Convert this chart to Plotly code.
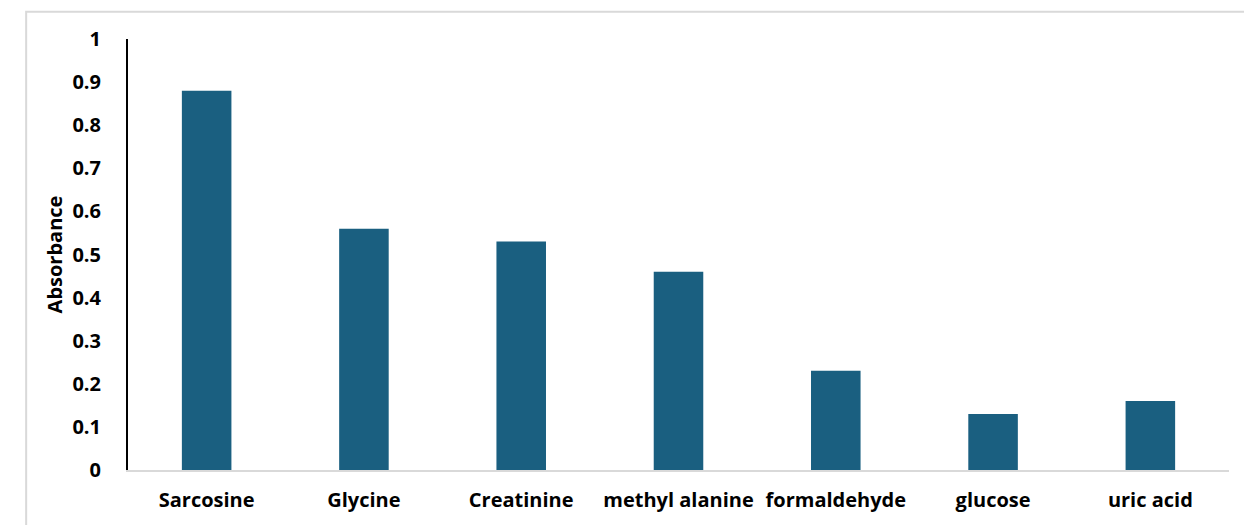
import plotly.graph_objects as go

compounds = ["Sarcosine", "Glycine", "Creatinine", "methyl alanine",
             "formaldehyde", "glucose", "uric acid"]
absorbance = [0.88, 0.56, 0.53, 0.46, 0.23, 0.13, 0.16]
y_ticks = [0, 0.1, 0.2, 0.3, 0.4, 0.5, 0.6, 0.7, 0.8, 0.9, 1]
y_tick_text = ["0", "0.1", "0.2", "0.3", "0.4", "0.5", "0.6", "0.7", "0.8", "0.9", "1"]

BAR_COLOR = "#1a5f80"
FONT = "Open Sans"

fig = go.Figure(
    go.Bar(
        x=compounds,
        y=absorbance,
        marker=dict(color=BAR_COLOR, line=dict(width=0)),
        width=0.315,
    )
)

fig.update_layout(
    width=1244,
    height=525,
    margin=dict(l=128, r=15, t=39, b=55),
    paper_bgcolor="white",
    plot_bgcolor="white",
    showlegend=False,
    font=dict(family=FONT, color="black"),
    xaxis=dict(
        showgrid=False,
        showline=True,
        linecolor="#d9d9d9",
        linewidth=2,
        ticks="",
        tickfont=dict(family=FONT, size=20, color="black", weight="bold"),
        ticklabelstandoff=11,
    ),
    yaxis=dict(
        range=[0, 1],
        tickvals=y_ticks,
        ticktext=y_tick_text,
        showgrid=False,
        zeroline=False,
        showline=True,
        linecolor="black",
        linewidth=2,
        ticks="",
        tickfont=dict(family=FONT, size=20, color="black", weight="bold"),
        ticklabelstandoff=21,
        title=dict(text="Absorbance", standoff=4,
                   font=dict(family=FONT, size=20, color="black", weight="bold")),
    ),
    shapes=[
        dict(type="rect", xref="paper", yref="paper",
             x0=-0.0925, x1=1.05, y0=-0.3, y1=1.063,
             line=dict(color="#d9d9d9", width=2), fillcolor="rgba(0,0,0,0)",
             layer="below"),
    ],
)

fig.write_html("out.html")
